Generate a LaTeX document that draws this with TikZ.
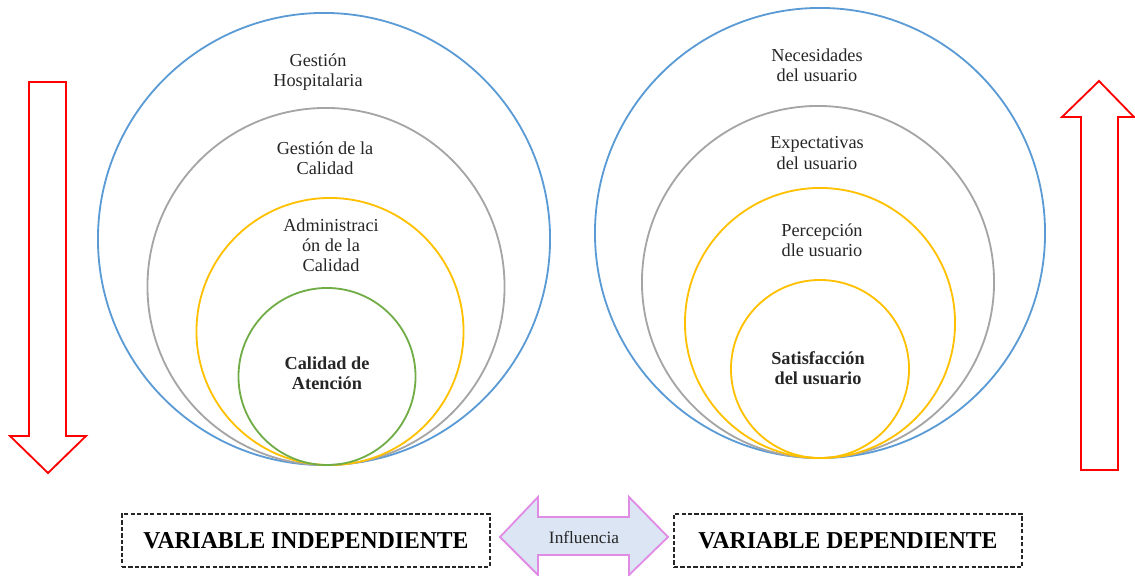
\documentclass[tikz,border=0pt]{standalone}
\usepackage{fontspec}
\usepackage{graphicx}
\setmainfont{Liberation Serif}
\definecolor{cblue}{HTML}{5B9BD5}
\definecolor{cgray}{HTML}{A5A5A5}
\definecolor{cyellow}{HTML}{FFC000}
\definecolor{cgreen}{HTML}{70AD47}
\definecolor{cred}{HTML}{FF0000}
\definecolor{cviolet}{HTML}{E08BE6}
\definecolor{cfill}{HTML}{DCE5F4}
\begin{document}
\begin{tikzpicture}[x=0.025cm,y=-0.025cm,
  ring/.style={circle,draw,line width=1.3pt,inner sep=0pt},
  lbl/.style={align=center,inner sep=0pt,font=\fontsize{13}{14.3}\selectfont,text=black!85},
  blbl/.style={lbl,font=\fontsize{13}{14.3}\selectfont\bfseries},
  varbox/.style={draw=black!85,dashed,dash pattern=on 3pt off 1.6pt,line width=1.3pt,inner sep=0pt,minimum height=1.325cm},
  redarrow/.style={draw=cred,line width=1.3pt,fill=white,line join=miter}]
\useasboundingbox (0,0) rectangle (1135,576);

% left rings
\node[ring,draw=cblue,minimum size=11.3cm] (lb) at (324,239) {};
\node[ring,draw=cgray,minimum size=8.925cm] (lg) at (326,286.5) {};
\node[ring,draw=cyellow,minimum size=6.675cm] (ly) at (330,331.5) {};
\node[ring,draw=cgreen,minimum size=4.425cm] (lgr) at (327,376.5) {};

% right rings
\node[ring,draw=cblue,minimum size=11.25cm] (rb) at (820,233) {};
\node[ring,draw=cgray,minimum size=8.8cm] (rg) at (818,282) {};
\node[ring,draw=cyellow,minimum size=6.75cm] (ry) at (820,323) {};
\node[ring,draw=cyellow,minimum size=4.45cm] (ryi) at (820,369) {};

% left labels
\node[lbl] (t1) at (318,72) {Gestión\\Hospitalaria};
\node[lbl] (t2) at (325,158) {Gestión de la\\Calidad};
\node[lbl] (t3) at (331,245) {Administraci\\ón de la\\Calidad};
\node[blbl] (t4) at (327,373) {Calidad de\\Atención};

% right labels
\node[lbl] (u1) at (817,65) {Necesidades\\del usuario};
\node[lbl] (u2) at (817,153) {Expectativas\\del usuario};
\node[lbl] (u3) at (822,240) {Percepción\\dle usuario};
\node[blbl] (u4) at (818,368) {Satisfacción\\del usuario};

% red arrows
\draw[redarrow] (29,82) -- (66,82) -- (66,436) -- (86,436) -- (48,473) -- (10,436) -- (29,436) -- cycle;
\draw[redarrow] (1081,470) -- (1118,470) -- (1118,117) -- (1134,117) -- (1099,81) -- (1062,117) -- (1081,117) -- cycle;

% bottom boxes
\node[varbox,minimum width=9.2cm] (vi) at (306,540.5) {\resizebox{8.125cm}{0.4cm}{\bfseries VARIABLE INDEPENDIENTE}};
\node[varbox,minimum width=8.7cm] (vd) at (848,540.5) {\resizebox{7.475cm}{0.4cm}{\bfseries VARIABLE DEPENDIENTE}};

% influence double arrow
\draw[draw=cviolet,fill=cfill,line width=1.3pt,line join=miter]
  (500,537) -- (538,497) -- (538,517) -- (629,517) -- (629,497) -- (668,537)
  -- (629,575) -- (629,555) -- (538,555) -- (538,575) -- cycle;
\node[inner sep=0pt,text=black!85] (inf) at (584,537) {\resizebox{1.75cm}{!}{Influencia}};
\end{tikzpicture}
\end{document}
